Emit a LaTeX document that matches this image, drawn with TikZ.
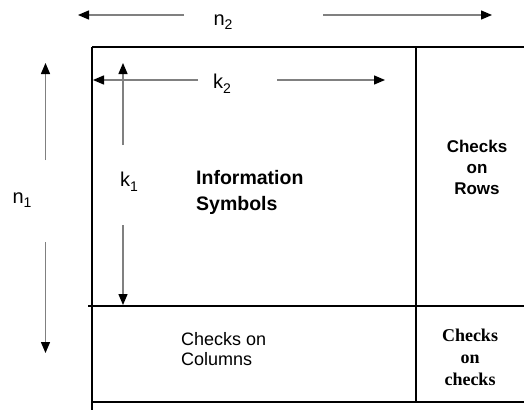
\documentclass[tikz,border=0pt]{standalone}
\usepackage{fontspec}
\setmainfont{Liberation Sans}
\newfontfamily\timesfont{Liberation Serif}
\usetikzlibrary{arrows.meta}

\tikzset{
  dimarrow/.style={draw=black!50, line width=1.4pt, -{Triangle[length=11pt,width=9pt,color=black]}},
  frameline/.style={line width=1.4pt},
  dimlabel/.style={inner sep=0pt, font=\fontsize{20}{20}\selectfont},
  celltext/.style={inner sep=0pt, align=center},
}
\newcommand{\dimlab}[2]{#1\raisebox{-0.45ex}{\fontsize{14}{14}\selectfont #2}}

\begin{document}
\begin{tikzpicture}[x=1pt,y=-1pt]
        \useasboundingbox (0,0) rectangle (524,410);
        %% Frame
        \draw[frameline] (92,47) -- (524,47);
        \draw[frameline] (92,47) -- (92,410);
        \draw[frameline] (416,47) -- (416,402);
        \draw[frameline] (88,306) -- (524,306);
        \draw[frameline] (92,402) -- (524,402);
        %% Dimension labels
        \node[dimlabel] (n2) at (223,22) {\dimlab{n}{2}};
        \node[dimlabel] (k2) at (222,84) {\dimlab{k}{2}};
        \node[dimlabel] (n1) at (22,200) {\dimlab{n}{1}};
        \node[dimlabel] (k1) at (129,182) {\dimlab{k}{1}};
        %% Arrow ends
        \coordinate (n2l) at (184,15);  \coordinate (n2a) at (78,15);
        \coordinate (n2r) at (323,15);  \coordinate (n2b) at (492,15);
        \coordinate (k2l) at (198,80);  \coordinate (k2a) at (93,80);
        \coordinate (k2r) at (277,80);  \coordinate (k2b) at (385,80);
        \coordinate (n1t) at (45.5,160); \coordinate (n1a) at (45.5,63);
        \coordinate (n1d) at (45.5,242); \coordinate (n1b) at (45.5,353);
        \coordinate (k1t) at (123,145); \coordinate (k1a) at (123,63);
        \coordinate (k1d) at (123,225); \coordinate (k1b) at (123,305);
        %% Arrows
        \draw[dimarrow] (n2l) -- (n2a);
        \draw[dimarrow] (n2r) -- (n2b);
        \draw[dimarrow] (k2l) -- (k2a);
        \draw[dimarrow] (k2r) -- (k2b);
        \draw[dimarrow] (n1t) -- (n1a);
        \draw[dimarrow] (n1d) -- (n1b);
        \draw[dimarrow] (k1t) -- (k1a);
        \draw[dimarrow] (k1d) -- (k1b);
        %% Blocks
        \node[celltext, anchor=west, align=left, font=\bfseries\fontsize{19.5}{26}\selectfont] (info) at (196,192) {Information\\Symbols};
        \node[celltext, font=\bfseries\fontsize{17}{21}\selectfont] (rows) at (477,167) {Checks\\on\\Rows};
        \node[celltext, anchor=west, align=left, font=\fontsize{18}{20}\selectfont] (cols) at (181,349) {Checks on\\Columns};
        \node[celltext, font=\timesfont\bfseries\fontsize{18}{22}\selectfont] (cc) at (470,357) {Checks\\on\\checks};
\end{tikzpicture}
\end{document}
